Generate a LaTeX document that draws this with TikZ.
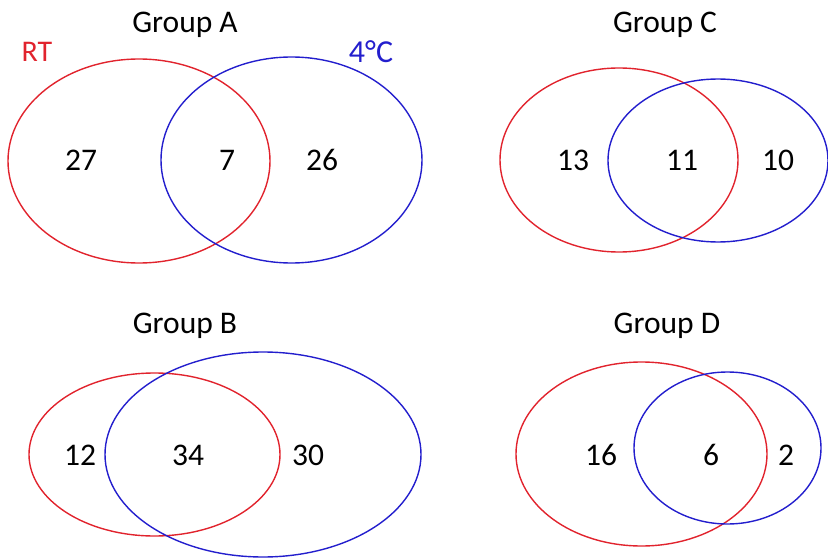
\documentclass[tikz,border=0pt]{standalone}
\usepackage{fontspec}
\setmainfont{Carlito}
\usepackage{xcolor}
\usepackage{tikz}
\usetikzlibrary{positioning}

\definecolor{rtred}{RGB}{225,35,45}
\definecolor{coldblue}{RGB}{35,30,205}

\begin{document}
\begin{tikzpicture}[
    x=1pt, y=-1pt,
    title/.style={font=\fontsize{31.5}{34}\selectfont, text=black},
    count/.style={font=\fontsize{31.5}{34}\selectfont, text=black},
    rtset/.style={draw=rtred, line width=1.4pt},
    coldset/.style={draw=coldblue, line width=1.4pt}
]
    \useasboundingbox (0,0) rectangle (828,559);

    % Group A
    \draw[rtset] (139,161) ellipse [x radius=131pt, y radius=102pt];
    \draw[coldset] (291.5,160) ellipse [x radius=130.5pt, y radius=103pt];
    \node[title] (titleA) at (185,25) {Group A};
    \node[font=\fontsize{30}{32}\selectfont, text=rtred] (rtlabel) at (37,52) {RT};
    \node[font=\fontsize{32}{34}\selectfont, text=coldblue] (coldlabel) at (371,52) {4°C};
    \node[count] (a1) at (81,160) {27};
    \node[count] (a2) at (227,160) {7};
    \node[count] (a3) at (322,160) {26};

    % Group C
    \draw[rtset] (619,160) ellipse [x radius=119pt, y radius=92pt];
    \draw[coldset] (718,160.5) ellipse [x radius=110pt, y radius=81.5pt];
    \node[title] (titleC) at (665,25) {Group C};
    \node[count] (c1) at (573,160) {13};
    \node[count] (c2) at (682,160) {11};
    \node[count] (c3) at (778,160) {10};

    % Group B
    \draw[rtset] (154.5,454.5) ellipse [x radius=125.5pt, y radius=81.5pt];
    \draw[coldset] (263,454.5) ellipse [x radius=158pt, y radius=102.5pt];
    \node[title] (titleB) at (185,326) {Group B};
    \node[count] (b1) at (80,455) {12};
    \node[count] (b2) at (188,455) {34};
    \node[count] (b3) at (308,455) {30};

    % Group D
    \draw[rtset] (641.5,454) ellipse [x radius=125.5pt, y radius=92pt];
    \draw[coldset] (727.5,448) ellipse [x radius=93.5pt, y radius=76pt];
    \node[title] (titleD) at (667,326) {Group D};
    \node[count] (d1) at (601,455) {16};
    \node[count] (d2) at (711,455) {6};
    \node[count] (d3) at (786,455) {2};
\end{tikzpicture}
\end{document}
